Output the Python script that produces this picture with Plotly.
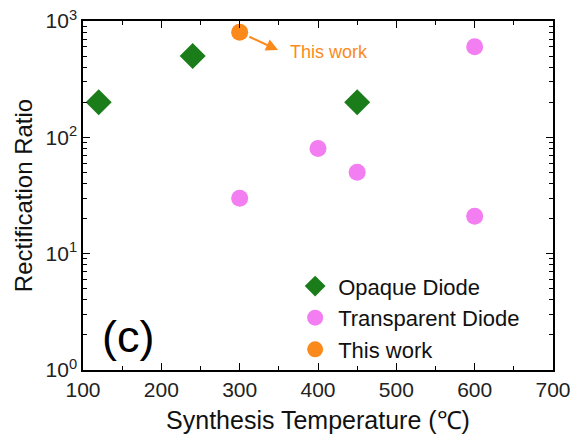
import plotly.graph_objects as go

opaque_x = [120, 240, 450]
opaque_y = [200, 500, 200]
trans_x = [300, 400, 450, 600, 600]
trans_y = [30, 80, 50, 600, 21]
this_x = [300]
this_y = [800]

ytick_vals = [1, 10, 100, 1000]
ytick_text = ["10<sup>0</sup>", "10<sup>1</sup>", "10<sup>2</sup>", "10<sup>3</sup>"]
xtick_vals = [100, 200, 300, 400, 500, 600, 700]

font = "Liberation Sans, Arial, sans-serif"

fig = go.Figure()
fig.add_trace(go.Scatter(x=opaque_x, y=opaque_y, mode="markers", name="Opaque Diode",
                         marker=dict(symbol="diamond", size=20, color="#1a7d1a")))
fig.add_trace(go.Scatter(x=trans_x, y=trans_y, mode="markers", name="Transparent Diode",
                         marker=dict(symbol="circle", size=17, color="#f27ef2")))
fig.add_trace(go.Scatter(x=this_x, y=this_y, mode="markers", name="This work",
                         marker=dict(symbol="circle", size=17, color="#fb8a1c")))

fig.add_annotation(x=349, y=2.75, xref="x", yref="y", ax=300, ay=2.903, axref="x", ayref="y",
                   text="", showarrow=True, arrowhead=2, arrowsize=1.2, arrowwidth=2,
                   arrowcolor="#fb8a1c", standoff=0, startstandoff=9)
fig.add_annotation(x=362, y=2.733, xref="x", yref="y", text="This work", showarrow=False,
                   xanchor="left", yanchor="middle",
                   font=dict(family=font, size=18, color="#fb8a1c"))
fig.add_annotation(x=0.036, y=0.095, xref="paper", yref="paper", text="(c)", showarrow=False,
                   xanchor="left", yanchor="middle",
                   font=dict(family=font, size=45, color="black"))

minor_y = [m * 10 ** d for d in range(0, 3) for m in range(2, 10)]

fig.update_layout(
    width=572, height=437,
    margin=dict(l=83, r=19, t=21, b=67),
    paper_bgcolor="white", plot_bgcolor="white",
    font=dict(family=font, size=20, color="#222"),
    showlegend=True,
    legend=dict(x=0.445, y=0.3, xanchor="left", yanchor="top", bgcolor="rgba(0,0,0,0)",
                font=dict(family=font, size=22, color="#111"), itemsizing="trace",
                itemwidth=36, tracegroupgap=0),
    xaxis=dict(range=[100, 700], tickvals=xtick_vals, ticks="inside", ticklen=7, tickwidth=1.3,
               tickcolor="black", showline=True, linecolor="black", linewidth=1.5, mirror="ticks",
               showgrid=False, zeroline=False, automargin=False,
               minor=dict(tickvals=[150, 250, 350, 450, 550, 650], ticks="inside", ticklen=4,
                          tickcolor="black", showgrid=False),
               title=dict(text="Synthesis Temperature (℃)", font=dict(family=font, size=25, color="#111"),
                          standoff=12),
               tickfont=dict(family=font, size=21, color="#222")),
    yaxis=dict(type="log", range=[0, 3], tickvals=ytick_vals, ticktext=ytick_text, ticks="inside",
               ticklen=7, tickwidth=1.3, tickcolor="black", showline=True, linecolor="black",
               linewidth=1.5, mirror="ticks", showgrid=False, zeroline=False, automargin=False,
               minor=dict(tickvals=minor_y, ticks="inside", ticklen=4, tickcolor="black", showgrid=False),
               title=dict(text="Rectification Ratio", font=dict(family=font, size=24, color="#111"),
                          standoff=6),
               tickfont=dict(family=font, size=21, color="#222")),
)

fig.write_html("out.html")
